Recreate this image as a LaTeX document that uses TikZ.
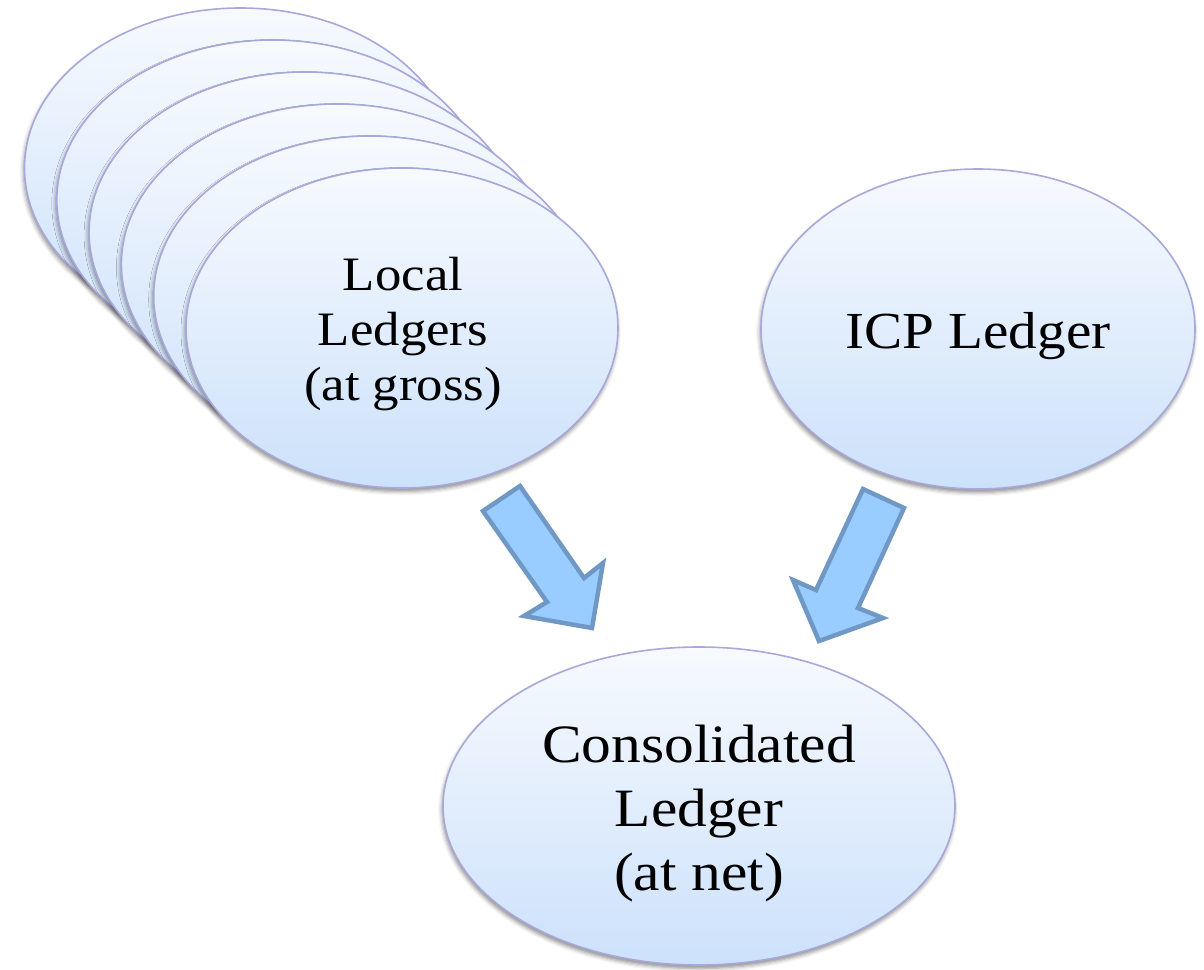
\documentclass[tikz,border=0pt]{standalone}
\usepackage{fontspec}
\setmainfont{Liberation Serif}[FakeStretch=1.1]
\usetikzlibrary{shapes.geometric,shadows.blur}

\definecolor{ellTop}{HTML}{F7FAFE}
\definecolor{ellBot}{HTML}{CCE1FB}
\definecolor{ellLine}{HTML}{A8A8DA}
\definecolor{arrFill}{HTML}{99CCFF}
\definecolor{arrLine}{HTML}{7098C4}

\tikzset{
  ledger/.style={ellipse, inner sep=0pt, draw=ellLine, line width=1.6pt,
    top color=ellTop, bottom color=ellBot,
    blur shadow={shadow xshift=-1pt, shadow yshift=-3.5pt,
                 shadow blur radius=4pt, shadow opacity=45}},
  smallledger/.style={ledger, minimum width=432pt, minimum height=320pt},
  ledgertext/.style={align=center, inner sep=0pt, text=black},
  blockarrow/.style={fill=arrFill, draw=arrLine, line width=4.5pt,
    line join=miter, miter limit=10}
}

\begin{document}
\begin{tikzpicture}[x=1pt, y=-1pt]
  \useasboundingbox (0,0) rectangle (1204,969);

  % stack of local ledgers, drawn from back to front
  \foreach \k in {5,4,...,0} {
    \node[smallledger] (local\k) at ({402-32.3*\k},{328-32*\k}) {};
  }
  \node[ledgertext, font=\fontsize{48}{55}\selectfont] (localtxt) at (403,334)
    {Local\\Ledgers\\(at gross)};

  % ICP ledger
  \node[smallledger, minimum width=434pt] (icp) at (978,329) {};
  \node[ledgertext, font=\fontsize{52}{60}\selectfont] (icptxt) at (978,336)
    {ICP Ledger};

  % consolidated ledger
  \node[ledger, minimum width=512pt, minimum height=318pt] (cons) at (699,806) {};
  \node[ledgertext, font=\fontsize{54}{64}\selectfont] (constxt) at (699,814)
    {Consolidated\\Ledger\\(at net)};

  % block arrows into the consolidated ledger
  \draw[blockarrow] (483,511) -- (520,486) -- (584,578) -- (603,563)
    -- (592,628) -- (524,616) -- (547,602) -- cycle;
  \draw[blockarrow] (863,489) -- (904,508) -- (858,608) -- (883,618)
    -- (819,641) -- (793,580) -- (816,590) -- cycle;
\end{tikzpicture}
\end{document}
